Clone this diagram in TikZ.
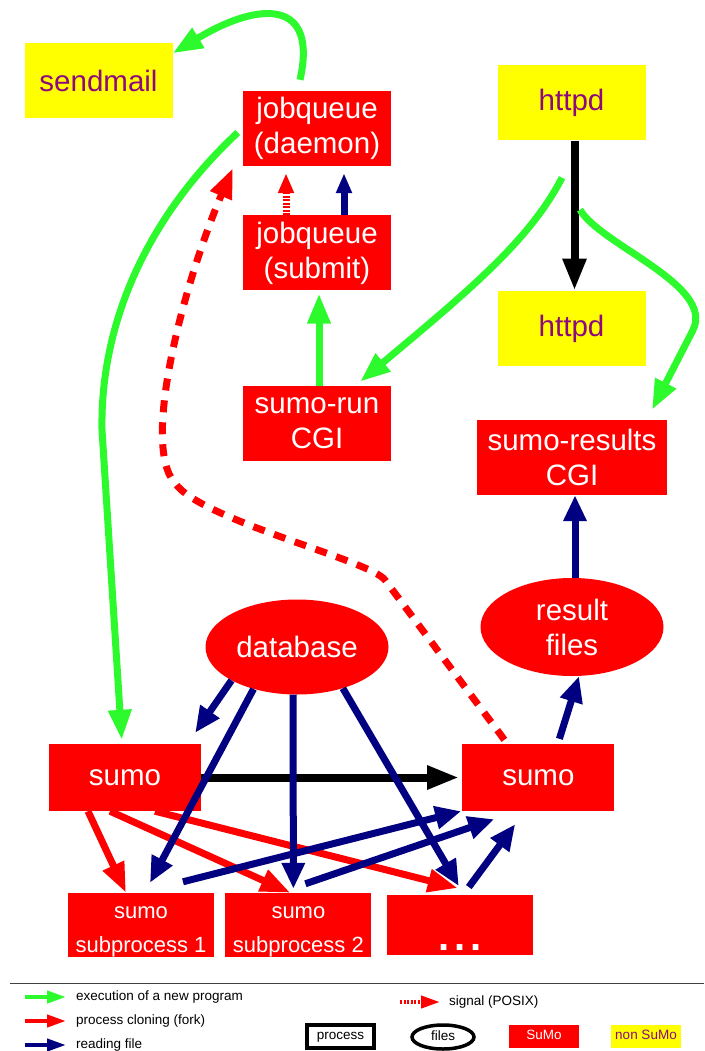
\documentclass[tikz,border=0pt]{standalone}
\usepackage{fontspec}
\setmainfont{Liberation Sans}
\usetikzlibrary{shapes.geometric, arrows.meta, positioning}

\definecolor{sumored}{RGB}{255,0,0}
\definecolor{nonyellow}{RGB}{255,255,0}
\definecolor{nonpurple}{RGB}{140,10,125}
\definecolor{execgreen}{RGB}{45,250,45}
\definecolor{readblue}{RGB}{0,0,128}

\newcommand{\boxfont}{\fontsize{29.5}{35}\selectfont}
\newcommand{\subfont}{\fontsize{22}{34}\selectfont}
\newcommand{\legfont}{\fontsize{13.5}{16}\selectfont}
\newcommand{\substrut}{\rule{0pt}{25.5pt}}

\tikzset{
  sumo/.style={fill=sumored, text=white, minimum width=148pt, minimum height=75pt,
    inner sep=0pt, align=center, font=\boxfont},
  nonsumo/.style={sumo, fill=nonyellow, text=nonpurple},
  subbox/.style={sumo, minimum width=146pt, minimum height=57pt, font=\subfont},
  execarrow/.style={draw=execgreen, line width=7pt, -{Triangle[length=30pt,width=22pt]}},
  forkarrow/.style={draw=sumored, line width=7pt, -{Triangle[length=30pt,width=22pt]}},
  readarrow/.style={draw=readblue, line width=7pt, -{Triangle[length=26pt,width=22pt]}},
  plainarrow/.style={draw=black, line width=8pt, -{Triangle[length=32pt,width=22pt]}},
  signalarrow/.style={draw=sumored, line width=7pt, dash pattern=on 12pt off 10pt,
    -{Triangle[length=30pt,width=22pt]}},
  sigsmall/.style={draw=sumored, line width=7pt, dash pattern=on 2pt off 1.5pt,
    -{Triangle[length=20pt,width=15pt]}},
  readsmall/.style={draw=readblue, line width=7pt, -{Triangle[length=20pt,width=15pt]}},
  legtext/.style={anchor=west, inner sep=0pt, font=\legfont},
  legarrow/.style={line width=4pt, -{Triangle[length=19pt,width=12pt]}},
  legkey/.style={minimum width=70pt, minimum height=23pt, inner sep=0pt, font=\legfont}
}

\begin{document}
\begin{tikzpicture}[x=1pt, y=-1pt]
\useasboundingbox (0,0) rectangle (704,1051);

% programs
\node[nonsumo] (sendmail) at (98.5,81) {sendmail};
\node[sumo] (jqd) at (317,128.5) {jobqueue\\(daemon)};
\node[sumo, below=49pt of jqd] (jqs) {jobqueue\\(submit)};
\node[sumo, below=95pt of jqs] (sumorun) {sumo-run\\CGI};
\node[nonsumo] (httpd1) at (571.5,103) {httpd};
\node[nonsumo, below=150pt of httpd1] (httpd2) {httpd};
\node[sumo, minimum width=190pt] (results) at (572,457.5) {sumo-results\\CGI};

% files
\node[sumo, ellipse, minimum width=183pt, minimum height=98pt] (resfiles) at (572,627) {result\\files};
\node[sumo, ellipse, minimum width=183pt, minimum height=95pt] (db) at (297,647) {database};

% sumo and its subprocesses
\node[sumo, minimum width=152pt, minimum height=67pt] (sumoL) at (125,777.5) {sumo};
\node[sumo, minimum width=152pt, minimum height=67pt, right=261pt of sumoL] (sumoR) {sumo};
\node[subbox] (sub1) at (141,925) {\substrut sumo\\subprocess 1};
\node[subbox, right=11pt of sub1] (sub2) {\substrut sumo\\subprocess 2};
\node[subbox, right=15pt of sub2] (dots) {\substrut\\\raisebox{4pt}{\fontsize{40}{34}\selectfont\bfseries .\kern5pt.\kern5pt.}};

% Arrows
\draw[execarrow] ([xshift=-17pt,yshift=11pt]jqd.north) .. controls +(18,-80) and +(88,-53) .. ([yshift=-10pt]sendmail.north east);
\draw[execarrow, shorten >=4pt] ([xshift=-5pt,yshift=-4pt]jqd.west) .. controls +(-88,82) and +(-2,-110) .. (102,430) -- ([xshift=-3pt]sumoL.north);
\draw[sigsmall, shorten >=7pt] ([xshift=-31pt]jqs.north) -- ([xshift=-31pt]jqd.south);
\draw[readsmall, shorten >=7pt] ([xshift=27pt]jqs.north) -- ([xshift=27pt]jqd.south);
\draw[execarrow, shorten >=3pt] ([xshift=2pt]sumorun.north) -- ([xshift=2pt]jqs.south);
\draw[plainarrow] ([xshift=3pt]httpd1.south) -- ([xshift=3pt]httpd2.north);
\draw[execarrow] ([xshift=-9.5pt,yshift=-37pt]httpd1.south) .. controls +(-32,62) and +(110,-92) .. ([xshift=-31pt,yshift=4pt]sumorun.north east);
\draw[execarrow] ([xshift=8.5pt,yshift=-69pt]httpd1.south) .. controls +(20,35) and +(22,-45) .. (693,330) -- ([xshift=80pt,yshift=10pt]results.north);
\draw[readarrow] ([xshift=3pt]resfiles.north) -- ([xshift=3pt]results.south);
\draw[readarrow] ([xshift=21pt,yshift=5pt]sumoR.north) -- ([xshift=7pt]resfiles.south);
\draw[signalarrow] ([xshift=-34pt,yshift=4pt]sumoR.north) -- (385,580) .. controls (370,560) and (200,520) .. (175,483) .. controls (140,445) and (185,280) .. ([xshift=-10pt,yshift=-2pt]jqd.south west);
\draw[plainarrow, shorten >=3pt] (sumoL) -- (sumoR);
\draw[forkarrow] ([xshift=-37pt]sumoL.south) -- ([xshift=-15pt]sub1.north);
\draw[forkarrow] ([xshift=-15pt]sumoL.south) -- ([xshift=-8pt]sub2.north);
\draw[forkarrow] ([xshift=30pt]sumoL.south) -- ([xshift=-2pt,yshift=7pt]dots.north);
\draw[readarrow] (db.207) -- ([xshift=-6pt,yshift=11pt]sumoL.north east);
\draw[readarrow] (db.224) -- ([xshift=9pt,yshift=10pt]sub1.north);
\draw[readarrow, shorten >=4pt] ([xshift=-4pt]db.south) -- ([xshift=-5pt]sub2.north);
\draw[readarrow] (db.318) -- ([xshift=-1pt,yshift=9pt]dots.north);
\draw[readarrow] ([xshift=42pt,yshift=11pt]sub1.north) -- ([xshift=-1pt]sumoR.south west);
\draw[readarrow] ([xshift=7pt,yshift=9pt]sub2.north) -- ([xshift=32pt,yshift=-8pt]sumoR.south west);
\draw[readarrow] ([xshift=9pt,yshift=8pt]dots.north) -- ([xshift=53pt,yshift=-13pt]sumoR.south west);

% Legend
\draw[line width=1.5pt, black!75] (10,983.5) -- (704,983.5);
\node[legtext] (legexec) at (76,997) {execution of a new program};
\node[legtext] (legfork) at (76,1021) {process cloning (fork)};
\node[legtext] (legread) at (76,1045) {reading file};
\node[legtext] (legsig) at (449,1002) {signal (POSIX)};
\draw[legarrow, draw=execgreen] ([xshift=-51pt]legexec.west) -- ([xshift=-10pt]legexec.west);
\draw[legarrow, draw=sumored] ([xshift=-51pt]legfork.west) -- ([xshift=-10pt]legfork.west);
\draw[legarrow, draw=readblue] ([xshift=-51pt]legread.west) -- ([xshift=-10pt]legread.west);
\draw[legarrow, draw=sumored, dash pattern=on 2pt off 1.5pt] ([xshift=-49pt]legsig.west) -- ([xshift=-9pt]legsig.west);
\node[legkey, draw, line width=4pt, minimum width=67pt] (legproc) at (340.5,1036.5) {\strut process};
\node[legkey, draw, ellipse, line width=3.5pt, minimum width=62pt, minimum height=24pt] (legfiles) at (443,1037) {\strut files};
\node[legkey, fill=sumored, text=white] (legsumo) at (544,1036.5) {\strut SuMo};
\node[legkey, fill=nonyellow, text=nonpurple] (legnon) at (646,1036.5) {\strut non SuMo};
\end{tikzpicture}
\end{document}
